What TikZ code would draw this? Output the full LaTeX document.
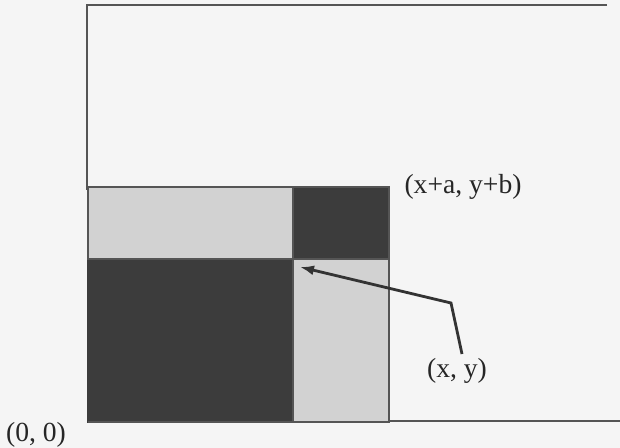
\documentclass[tikz,border=0pt]{standalone}
\usepackage{fontspec}
\setmainfont{Liberation Serif}
\usetikzlibrary{arrows.meta}
\definecolor{bgc}{HTML}{F5F5F5}
\definecolor{darkfill}{HTML}{3C3C3C}
\definecolor{lightfill}{HTML}{D2D2D2}
\definecolor{framec}{HTML}{555555}
\tikzset{
  frameline/.style={draw=framec, line width=1pt},
  darkbox/.style={fill=darkfill, draw=darkfill, line width=0.6pt},
  lightbox/.style={fill=lightfill, draw=framec, line width=0.8pt},
  lbl/.style={font=\fontsize{13.8}{16}\selectfont, text=black!85, inner sep=0pt},
  pointer/.style={draw=black!80, line width=1.4pt, -{Latex[length=7pt,width=5pt]}}
}
\begin{document}
\begin{tikzpicture}[x=0.5pt,y=-0.5pt]
\fill[bgc] (0,0) rectangle (620,448);
\useasboundingbox (0,0) rectangle (620,448);
% outer frame
\draw[frameline] (607,5) -- (87,5) -- (87,190);
\draw[frameline] (389,420.5) -- (620,420.5);
% blocks
\path[darkbox] (293,187) rectangle (389,259);
\path[darkbox] (88,259) rectangle (293,422);
\path[lightbox] (88,187) rectangle (293,259);
\path[lightbox] (293,259) rectangle (389,422);
\draw[framec, line width=1pt] (88,187) -- (389,187) -- (389,422) -- (88,422);
% labels
\node[lbl] (xyab) at (463,187) {(x+a, y+b)};
\node[lbl] (xy) at (457,371) {(x, y)};
\node[lbl] (origin) at (36,435) {(0, 0)};
% pointer
\coordinate (pstart) at (462,354);
\coordinate (pbend) at (451,303);
\coordinate (ptip) at (300,267);
\draw[pointer] (pstart) -- (pbend) -- (ptip);
\end{tikzpicture}
\end{document}
